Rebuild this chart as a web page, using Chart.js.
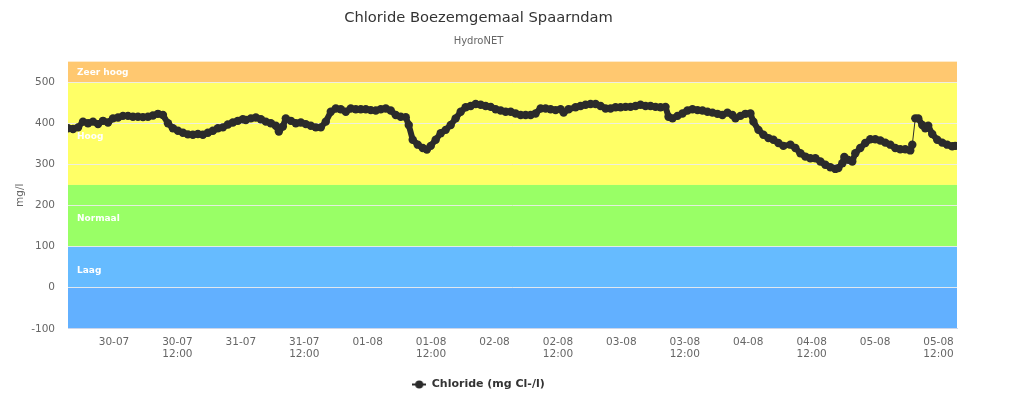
<!DOCTYPE html>
<html>
<head>
<meta charset="utf-8">
<title>Chloride Boezemgemaal Spaarndam</title>
<script src="https://cdn.jsdelivr.net/npm/chart.js@4/dist/chart.umd.min.js"></script>
<style>
  html, body { margin: 0; padding: 0; background: #fff; }
  #wrap { position: relative; width: 964px; height: 410px; }
</style>
</head>
<body>
<div id="wrap"><canvas id="chart"></canvas></div>
<script>
// uren sinds 29-07 00:00
const hours = [
  15.3, 16.25, 17.2, 18.14, 19.09, 20.03, 20.98, 21.92, 22.87, 23.81, 24.76, 25.7, 26.65, 27.59, 28.54, 29.48,
  30.43, 31.37, 32.32, 33.26, 34.21, 35.15, 36.1, 37.04, 37.99, 38.93, 39.88, 40.82, 41.77, 42.71, 43.66, 44.6,
  45.55, 46.49, 47.44, 48.38, 48.95, 49.9, 50.84, 51.79, 52.73, 53.68, 54.62, 55.19, 55.95, 56.51, 57.46, 58.4,
  59.35, 60.29, 61.24, 62.18, 63.13, 64.07, 65.02, 65.97, 66.91, 67.86, 68.8, 69.75, 70.69, 71.64, 72.58, 73.53,
  74.47, 75.42, 76.36, 77.31, 78.25, 79.2, 79.77, 80.52, 81.47, 82.42, 83.2, 83.93, 84.87, 85.82, 86.76, 87.71,
  88.65, 89.6, 90.54, 91.49, 92.43, 93.38, 94.32, 95.27, 96.21, 97.16, 98.1, 99.05, 99.99, 100.94, 101.88, 102.83,
  103.77, 104.72, 105.66, 106.61, 107.55, 108.5, 109.07, 110.01, 111.33, 112.28, 113.22, 114.17, 115.12, 116.06, 117.01, 117.95,
  118.9, 119.84, 120.79, 121.73, 122.68, 123.62, 124.57, 125.51, 126.46, 127.4, 128.35, 128.92, 129.67, 130.62, 131.56, 132.51,
  133.45, 134.4, 135.34, 136.29, 137.23, 138.18, 139.12, 140.07, 141.01, 141.58, 142.53, 143.47, 144.42, 144.98, 145.93, 146.87,
  147.82, 148.76, 149.71, 150.65, 151.98, 152.92, 153.87, 154.81, 155.76, 156.7, 157.65, 158.59, 159.54, 160.48, 161.05, 161.81,
  162.18, 162.94, 163.69, 164.26, 165.2, 166.15, 167.1, 168.04, 168.99, 169.93, 170.88, 171.82, 172.77, 173.71, 174.66, 175.04,
  175.61, 176.17, 176.93, 177.49, 178.06, 178.81, 179.76, 180.7, 181.65, 182.59, 183.16
];
const chloride = [
  388, 386, 390, 404, 400, 404, 398, 406, 402, 412, 414, 418, 418, 416, 416, 415,
  416, 419, 423, 420, 400, 388, 382, 377, 373, 372, 374, 372, 377, 382, 388, 390,
  397, 402, 406, 410, 408, 412, 414, 410, 404, 400, 394, 380, 392, 412, 406, 400,
  402, 398, 394, 390, 390, 404, 428, 436, 434, 428, 436, 434, 434, 434, 432, 431,
  434, 436, 431, 420, 416, 415, 396, 360, 348, 340, 336, 345, 360, 376, 384, 396,
  412, 428, 439, 442, 447, 445, 442, 440, 434, 431, 428, 428, 424, 420, 420, 420,
  424, 436, 436, 434, 432, 434, 426, 434, 439, 442, 445, 447, 447, 442, 436, 436,
  439, 439, 440, 440, 442, 445, 442, 442, 440, 439, 440, 416, 412, 418, 424, 431,
  434, 432, 431, 428, 426, 423, 420, 426, 420, 412, 418, 423, 424, 404, 384, 372,
  364, 360, 352, 345, 348, 340, 327, 319, 315, 315, 307, 299, 293, 289, 291, 303,
  318, 311, 307, 327, 340, 352, 361, 361, 358, 353, 348, 340, 337, 337, 334, 348,
  412, 412, 396, 388, 394, 374, 360, 353, 348, 344, 345
];

const xTicks = [24, 36, 48, 60, 72, 84, 96, 108, 120, 132, 144, 156, 168, 180];
const xTickLabels = [
  ["30-07"], ["30-07", "12:00"], ["31-07"], ["31-07", "12:00"], ["01-08"], ["01-08", "12:00"], ["02-08"],
  ["02-08", "12:00"], ["03-08"], ["03-08", "12:00"], ["04-08"], ["04-08", "12:00"], ["05-08"], ["05-08", "12:00"]
];
const yTicks = [-100, 0, 100, 200, 300, 400, 500];

// klassen (plotbanden)
const bandFrom = [500, 250, 100, 0, -100];
const bandTo = [550, 500, 250, 100, 0];
const bandLabels = ["Zeer hoog", "Hoog", "Normaal", "Laag", ""];
const bandLabelAt = [522, 367, 168, 42, 0];
const bandColors = ["#FFC870", "#FFFF66", "#99FF66", "#66BBFF", "#62B0FF"];

Chart.defaults.font.family = "'DejaVu Sans', 'Lucida Grande', sans-serif";

const bandsPlugin = {
  id: "bands",
  beforeDraw(chart) {
    const { ctx, chartArea: a, scales: { y } } = chart;
    ctx.save();
    bandFrom.forEach((from, i) => {
      const top = y.getPixelForValue(Math.min(bandTo[i], y.max));
      const bottom = y.getPixelForValue(Math.max(from, y.min));
      ctx.fillStyle = bandColors[i];
      ctx.fillRect(a.left, top, a.right - a.left, bottom - top);
    });
    ctx.fillStyle = "#fff";
    ctx.font = "bold 9px 'DejaVu Sans', sans-serif";
    ctx.textBaseline = "middle";
    bandLabels.forEach((txt, i) => {
      if (txt) ctx.fillText(txt, a.left + 9, y.getPixelForValue(bandLabelAt[i]));
    });
    ctx.restore();
  }
};

// legendasymbool: lijntje met bolletje
const legendSym = document.createElement("canvas");
legendSym.width = 14;
legendSym.height = 9;
(function () {
  const c = legendSym.getContext("2d");
  c.strokeStyle = "#2b2b2b";
  c.lineWidth = 2;
  c.beginPath(); c.moveTo(0, 4.5); c.lineTo(14, 4.5); c.stroke();
  c.fillStyle = "#2b2b2b";
  c.beginPath(); c.arc(7, 4.5, 4, 0, Math.PI * 2); c.fill();
})();

new Chart(document.getElementById("chart"), {
  type: "line",
  data: {
    datasets: [{
      label: "Chloride (mg Cl-/l)",
      data: hours.map((h, i) => ({ x: h, y: chloride[i] })),
      borderColor: "#2b2b2b",
      backgroundColor: "#2b2b2b",
      borderWidth: 6,
      borderJoinStyle: "round",
      borderCapStyle: "round",
      pointRadius: 4.2,
      pointBorderWidth: 0,
      pointHoverRadius: 5,
      tension: 0,
      // sprong zonder tussenliggende metingen: dunne lijn
      segment: {
        borderWidth: (c) => (Math.abs(c.p1.parsed.y - c.p0.parsed.y) > 50 ? 1 : undefined)
      }
    }]
  },
  options: {
    responsive: true,
    maintainAspectRatio: false,
    animation: false,
    layout: { padding: { top: 8, right: 7, left: 0, bottom: 10 } },
    plugins: {
      title: {
        display: true,
        text: "Chloride Boezemgemaal Spaarndam",
        color: "#333",
        font: { size: 14.7, weight: "normal" },
        padding: { top: 1, bottom: 9 }
      },
      subtitle: {
        display: true,
        text: "HydroNET",
        color: "#666",
        font: { size: 10 },
        padding: { top: 0, bottom: 14 }
      },
      legend: {
        position: "bottom",
        labels: {
          usePointStyle: true,
          pointStyle: legendSym,
          pointStyleWidth: 14,
          color: "#333",
          font: { size: 11, weight: "bold" },
          padding: 11
        }
      },
      tooltip: { enabled: false }
    },
    scales: {
      x: {
        type: "linear",
        min: 15.3,
        max: 183.5,
        afterBuildTicks: (s) => { s.ticks = xTicks.map((v) => ({ value: v })); },
        grid: { color: "transparent", drawTicks: false },
        border: { display: true, color: "#ccd6eb" },
        ticks: {
          autoSkip: false,
          maxRotation: 0,
          color: "#666",
          font: { size: 10.5 },
          padding: 7,
          callback: (v) => xTickLabels[xTicks.indexOf(v)]
        }
      },
      y: {
        min: -100,
        max: 550,
        afterBuildTicks: (s) => { s.ticks = yTicks.map((v) => ({ value: v })); },
        afterFit: (s) => { s.width = 68; },
        grid: { color: "rgba(236,236,236,0.9)", drawTicks: false },
        border: { display: false },
        ticks: { color: "#666", font: { size: 10.5 }, padding: 13 },
        title: { display: true, text: "mg/l", color: "#666", font: { size: 10.5 }, padding: { top: 14, bottom: 0 } }
      }
    }
  },
  plugins: [bandsPlugin]
});
</script>
</body>
</html>
